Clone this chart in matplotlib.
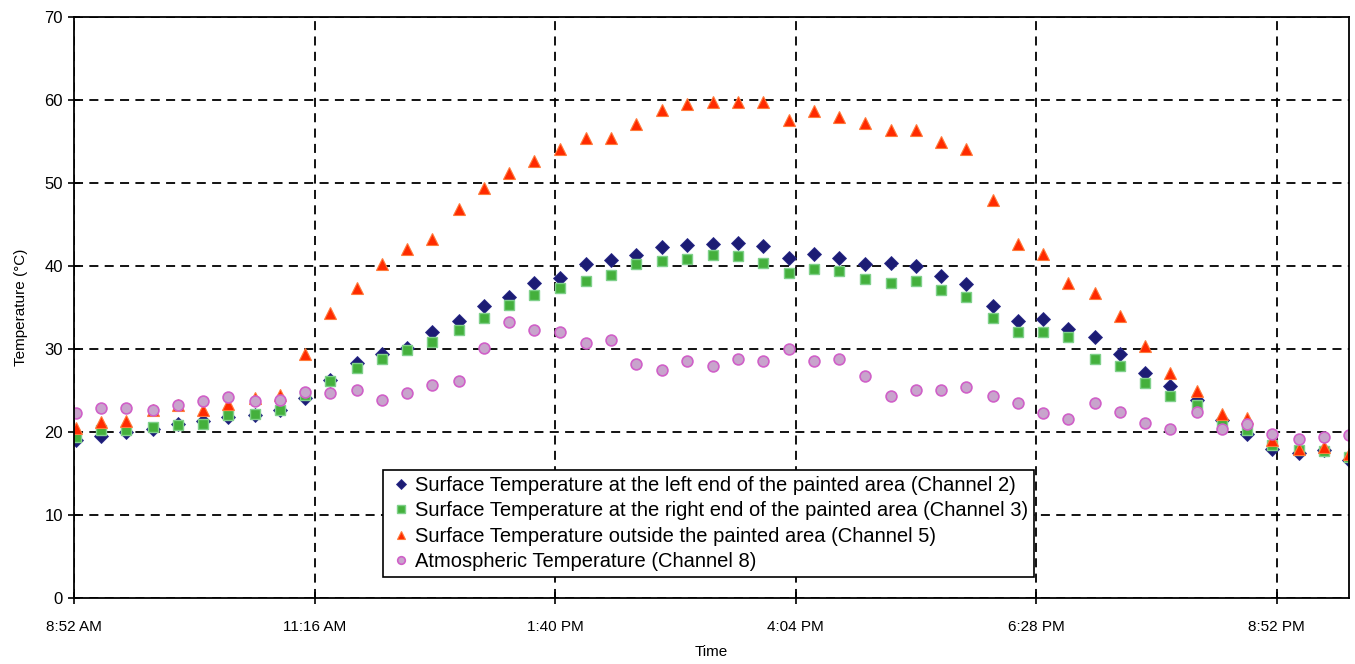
"""
Temperature record of the painted test panel, channels 2, 3, 5 and 8.
Output: out.png
"""
import matplotlib
matplotlib.use('Agg')
import matplotlib.pyplot as plt
import matplotlib as mpl

mpl.rcParams.update({
    'font.family': ['Liberation Sans', 'DejaVu Sans'],
    'axes.linewidth': 1.3,
})

# ── Data ──────────────────────────────────────────────────────────────────────
# logging times, minutes after midnight
time_min = [534, 549, 564, 580, 595, 610, 625, 641, 656, 671,
            686, 702, 717, 732, 747, 763, 778, 793, 808, 824,
            839, 854, 869, 885, 900, 915, 930, 945, 961, 976,
            991, 1006, 1022, 1037, 1052, 1067, 1083, 1098, 1113, 1128,
            1144, 1159, 1174, 1189, 1205, 1220, 1235, 1250, 1266, 1281,
            1296]

ch2 = [19.0, 19.5, 20.0, 20.4, 21.0, 21.3, 21.8, 22.1, 22.7, 24.1,
       26.3, 28.3, 29.4, 30.1, 32.0, 33.4, 35.2, 36.3, 37.9, 38.6,
       40.2, 40.7, 41.3, 42.3, 42.5, 42.7, 42.8, 42.4, 41.0, 41.5,
       41.0, 40.3, 40.4, 40.0, 38.8, 37.8, 35.2, 33.4, 33.6, 32.4,
       31.4, 29.4, 27.1, 25.5, 23.8, 21.5, 19.8, 18.0, 17.5, 17.8,
       16.6]

ch3 = [19.4, 20.2, 20.2, 20.6, 20.8, 21.0, 22.0, 22.2, 22.6, 24.4,
       26.1, 27.7, 28.8, 29.9, 30.9, 32.3, 33.7, 35.3, 36.5, 37.3,
       38.2, 38.9, 40.2, 40.6, 40.8, 41.3, 41.2, 40.4, 39.2, 39.6,
       39.4, 38.4, 38.0, 38.2, 37.1, 36.3, 33.7, 32.1, 32.0, 31.5,
       28.8, 27.9, 25.9, 24.3, 23.3, 21.0, 20.2, 18.4, 17.8, 17.7,
       17.0]

ch5 = [20.5, 21.2, 21.3, 22.6, 23.2, 22.7, 23.4, 24.1, 24.4, 29.4,
       34.3, 37.3, 40.3, 42.1, 43.3, 46.9, 49.4, 51.2, 52.7, 54.1,
       55.4, 55.4, 57.1, 58.8, 59.5, 59.8, 59.8, 59.8, 57.6, 58.7,
       58.0, 57.2, 56.4, 56.4, 54.9, 54.1, 48.0, 42.7, 41.5, 37.9,
       36.8, 34.0, 30.4, 27.1, 24.9, 22.2, 21.7, 19.0, 18.0, 18.2,
       17.3]

ch8 = [22.3, 22.9, 22.9, 22.6, 23.3, 23.7, 24.2, 23.7, 23.9, 24.8,
       24.7, 25.1, 23.8, 24.7, 25.7, 26.1, 30.1, 33.2, 32.3, 32.0,
       30.7, 31.1, 28.2, 27.5, 28.5, 27.9, 28.8, 28.5, 30.0, 28.5,
       28.8, 26.8, 24.3, 25.0, 25.1, 25.4, 24.3, 23.5, 22.3, 21.6,
       23.5, 22.4, 21.1, 20.4, 22.4, 20.4, 21.0, 19.8, 19.1, 19.4,
       19.6]

labels = ['Surface Temperature at the left end of the painted area (Channel 2)',
          'Surface Temperature at the right end of the painted area (Channel 3)',
          'Surface Temperature outside the painted area (Channel 5)',
          'Atmospheric Temperature (Channel 8)']

tick_days = [0.37, 0.47, 0.57, 0.67, 0.77, 0.87]
tick_labels = ['8:52 AM', '11:16 AM', '1:40 PM', '4:04 PM', '6:28 PM', '8:52 PM']

# time as fraction of a day (Excel style)
t = [m / 1440 for m in time_min]

# ── Figure ────────────────────────────────────────────────────────────────────
fig = plt.figure(figsize=(13.55, 6.64), dpi=100)
ax = fig.add_axes([0.0546, 0.0994, 0.9410, 0.8750])

ax.plot(t, ch2, linestyle='none', marker='D', ms=6.8,
        mfc='#1c1c74', mec='#2a2a8a', mew=0.6, label=labels[0])
ax.plot(t, ch3, linestyle='none', marker='s', ms=7.8,
        mfc='#44b03c', mec='#7fd08a', mew=1.0, label=labels[1])
ax.plot(t, ch5, linestyle='none', marker='^', ms=8.8,
        mfc='#ff2a00', mec='#ff7a3a', mew=0.8, label=labels[2])
ax.plot(t, ch8, linestyle='none', marker='o', ms=7.8,
        mfc='#c8a4cc', mec='#d060c8', mew=1.2, label=labels[3])

ax.set_xlim(0.37, 0.90)
ax.set_ylim(0, 70)
ax.set_xticks(tick_days)
ax.set_xticklabels(tick_labels)
ax.set_yticks(range(0, 71, 10))

ax.grid(True, color='black', linestyle=(0, (5, 3.5)), linewidth=1.3)
ax.set_axisbelow(True)
ax.tick_params(axis='both', direction='inout', length=8, width=1.2, colors='black')
ax.tick_params(axis='y', labelsize=12, pad=4)
ax.tick_params(axis='x', labelsize=11, pad=12)

ax.set_xlabel('Time', fontsize=11, labelpad=8)
ax.set_ylabel('Temperature (°C)', fontsize=11, labelpad=12)

leg = ax.legend(loc='lower left', bbox_to_anchor=(0.242, 0.036), borderaxespad=0,
                fontsize=14.5, frameon=True, fancybox=False, handletextpad=0.1,
                handlelength=1.2, labelspacing=0.32, borderpad=0.3, numpoints=1,
                markerscale=0.7)
leg.get_frame().set_edgecolor('black')
leg.get_frame().set_linewidth(1.2)
leg.get_frame().set_alpha(1)

fig.savefig('out.png', dpi=100)
